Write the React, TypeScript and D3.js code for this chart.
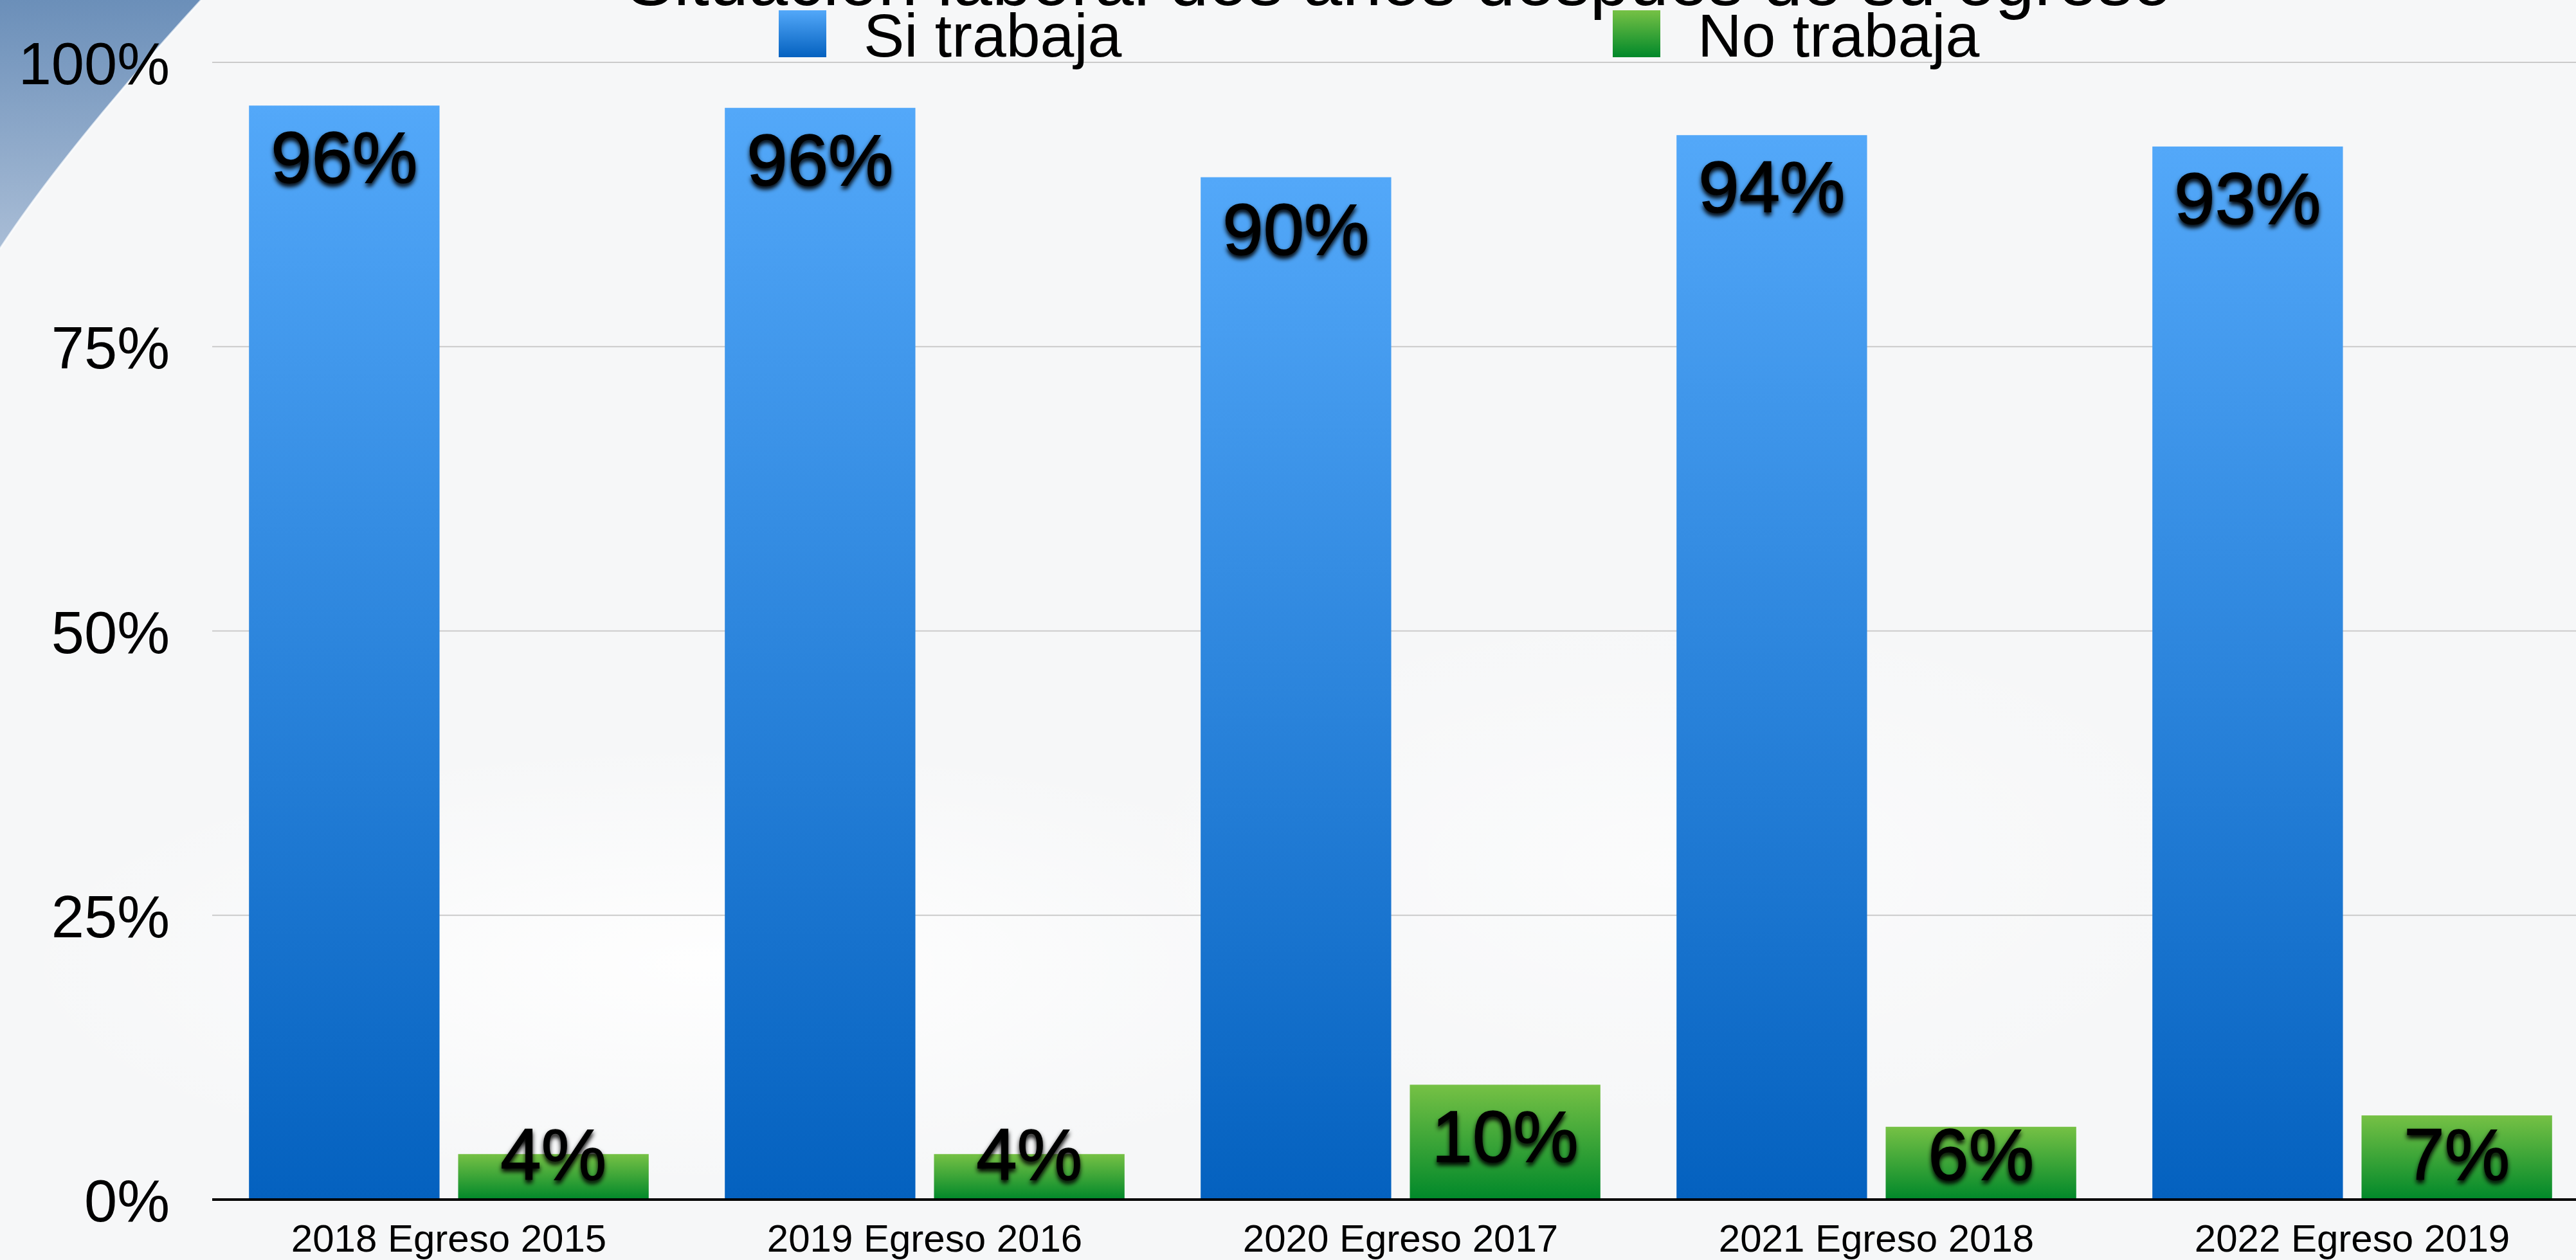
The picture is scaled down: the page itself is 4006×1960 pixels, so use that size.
import * as d3 from "d3";
import React from "react";

// chart values
const categories = [
  "2018 Egreso 2015",
  "2019 Egreso 2016",
  "2020 Egreso 2017",
  "2021 Egreso 2018",
  "2022 Egreso 2019",
];
const seriesNames = ["Si trabaja", "No trabaja"];
const siTrabaja = [96.2, 96.0, 89.9, 93.6, 92.6];
const noTrabaja = [4.0, 4.0, 10.1, 6.4, 7.4];
const yTicks = [0, 25, 50, 75, 100];
const title = "Situación laboral dos años después de su egreso";

const WIDTH = 4006;
const HEIGHT = 1960;
const FONT = "'Liberation Sans', Arial, Helvetica, sans-serif";

/**
 * Grouped bar chart, Keynote style.
 */
function App() {
  const left = 330;
  const baseline = 1866;
  const top = 97;

  // outer scale for the groups, runs past the right edge like the slide
  const x = d3
    .scaleBand<string>()
    .domain(categories)
    .range([328, 4028])
    .paddingInner(0.16)
    .paddingOuter(0.08);

  // inner scale for the two bars of a group
  const xInner = d3
    .scaleBand<string>()
    .domain(seriesNames)
    .range([0, x.bandwidth()])
    .paddingInner(0.089);

  const y = d3.scaleLinear().domain([0, 100]).range([baseline, top]);

  const series = [
    { name: seriesNames[0], values: siTrabaja, grad: "gradBlue" },
    { name: seriesNames[1], values: noTrabaja, grad: "gradGreen" },
  ];

  // label sits inside the top of the bar, but never lower than this
  const labelBaseline = (v: number) => Math.min(y(v) + 120, baseline - 31);

  return (
    <svg
      width={WIDTH}
      height={HEIGHT}
      style={{ position: "absolute", left: 0, top: 0, display: "block" }}
      fontFamily={FONT}
    >
      <defs>
        <linearGradient id="gradBlue" x1="0" y1="0" x2="0" y2="1">
          <stop offset="0%" stopColor="#53a8f9" />
          <stop offset="100%" stopColor="#0461bf" />
        </linearGradient>
        <linearGradient id="gradGreen" x1="0" y1="0" x2="0" y2="1">
          <stop offset="0%" stopColor="#76c145" />
          <stop offset="100%" stopColor="#00882a" />
        </linearGradient>
        <linearGradient id="gradSwoosh" x1="0" y1="0" x2="0" y2="1">
          <stop offset="0%" stopColor="#6b8fb9" />
          <stop offset="100%" stopColor="#a9bdd6" />
        </linearGradient>
        <radialGradient id="gradGlow" cx="0.5" cy="0.5" r="0.5">
          <stop offset="0%" stopColor="#ffffff" stopOpacity="0.9" />
          <stop offset="100%" stopColor="#ffffff" stopOpacity="0" />
        </radialGradient>
        <filter id="shadow" x="-20%" y="-20%" width="140%" height="150%">
          <feGaussianBlur in="SourceAlpha" stdDeviation="3.5" />
          <feOffset dx="0" dy="5" result="blur" />
          <feMerge>
            <feMergeNode in="blur" />
            <feMergeNode in="SourceGraphic" />
          </feMerge>
        </filter>
      </defs>

      {/* background */}
      <rect width={WIDTH} height={HEIGHT} fill="#f6f7f8" />
      <ellipse cx={1100} cy={1500} rx={1100} ry={350} fill="url(#gradGlow)" />
      <ellipse cx={2600} cy={1350} rx={900} ry={420} fill="url(#gradGlow)" opacity={0.6} />
      <path d="M0,0 L313,0 C230,90 90,250 0,387 Z" fill="url(#gradSwoosh)" />
      <path d="M313,0 C230,90 90,250 0,387" fill="none" stroke="#ffffff" strokeOpacity={0.7} strokeWidth={3} />

      {/* gridlines */}
      {yTicks
        .filter((t) => t > 0)
        .map((t) => (
          <line key={t} x1={left} x2={WIDTH} y1={y(t)} y2={y(t)} stroke="#cbcbcb" strokeWidth={2} />
        ))}

      {/* y tick labels */}
      {yTicks.map((t) => (
        <text key={t} x={264} y={y(t) + 34} textAnchor="end" fontSize={92} fill="#000">
          {t}%
        </text>
      ))}

      {/* bars */}
      {series.map((s) =>
        categories.map((c, i) => (
          <rect
            key={s.name + c}
            x={(x(c) ?? 0) + (xInner(s.name) ?? 0)}
            y={y(s.values[i])}
            width={xInner.bandwidth()}
            height={baseline - y(s.values[i])}
            fill={`url(#${s.grad})`}
          />
        ))
      )}

      {/* axis line */}
      <line x1={left} x2={WIDTH} y1={baseline} y2={baseline} stroke="#000" strokeWidth={4} />

      {/* value labels */}
      {series.map((s) =>
        categories.map((c, i) => (
          <text
            key={"lbl" + s.name + c}
            x={(x(c) ?? 0) + (xInner(s.name) ?? 0) + xInner.bandwidth() / 2}
            y={labelBaseline(s.values[i])}
            textAnchor="middle"
            fontSize={114}
            fill="#000"
            stroke="#000"
            strokeWidth={1.5}
            filter="url(#shadow)"
          >
            {Math.round(s.values[i])}%
          </text>
        ))
      )}

      {/* category labels */}
      {categories.map((c) => (
        <text key={c} x={(x(c) ?? 0) + x.bandwidth() / 2} y={1947} textAnchor="middle" fontSize={60} fill="#000">
          {c}
        </text>
      ))}

      {/* title, mostly cut off at the top of the slide */}
      <text x={2176} y={8} textAnchor="middle" fontSize={110} fill="#000">
        {title}
      </text>

      {/* legend */}
      {series.map((s, i) => {
        const lx = [1211, 2508][i];
        return (
          <g key={"leg" + s.name}>
            <rect x={lx} y={16} width={74} height={73} fill={`url(#${s.grad})`} />
            <text x={lx + 132} y={88} fontSize={95} fill="#000">
              {s.name}
            </text>
          </g>
        );
      })}
    </svg>
  );
}

export default App;
